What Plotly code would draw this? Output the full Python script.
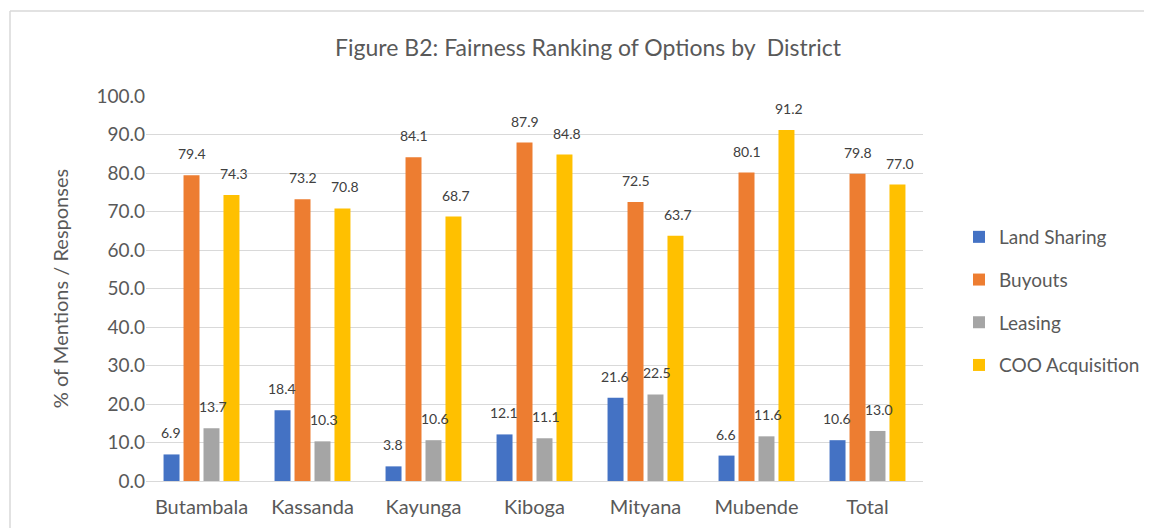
import plotly.graph_objects as go

districts = ["Butambala", "Kassanda", "Kayunga", "Kiboga", "Mityana", "Mubende", "Total"]
land_sharing = [6.9, 18.4, 3.8, 12.1, 21.6, 6.6, 10.6]
buyouts = [79.4, 73.2, 84.1, 87.9, 72.5, 80.1, 79.8]
leasing = [13.7, 10.3, 10.6, 11.1, 22.5, 11.6, 13.0]
coo_acquisition = [74.3, 70.8, 68.7, 84.8, 63.7, 91.2, 77.0]
series_names = ["Land Sharing", "Buyouts", "Leasing", "COO Acquisition"]
y_ticks = [0, 10, 20, 30, 40, 50, 60, 70, 80, 90, 100]

colors = ["#4472C4", "#ED7D31", "#A5A5A5", "#FFC000"]
series = [land_sharing, buyouts, leasing, coo_acquisition]
FONT = "Lato, Carlito, Calibri, sans-serif"
TXT = "#595959"

OFF = 8  # browser default body margin
W, H = 1152 - OFF, 528 - OFF
ML = 146 - OFF
MT = 96 - OFF
MR = 1152 - 923
MB = 528 - 481
PW = W - ML - MR
PH = H - MT - MB

fig = go.Figure()
for i, (name, vals) in enumerate(zip(series_names, series)):
    fig.add_trace(go.Bar(
        name=name, x=districts, y=vals,
        marker=dict(color=colors[i], line=dict(width=0)),
        legendgroup=name,
    ))

# data labels
offsets = [-31, -10, 11, 32]
for i, vals in enumerate(series):
    for d, v in zip(districts, vals):
        fig.add_annotation(
            x=d, y=v, text=f"{v:.1f}", showarrow=False,
            xshift=offsets[i], yshift=11, yanchor="bottom",
            font=dict(family=FONT, size=14, color="#404040"),
        )

# chart border (frame)
bx = (10 - OFF - ML) / PW
by = 1 + (MT - (11 - OFF)) / PH
fig.add_shape(type="line", xref="paper", yref="paper", x0=bx, x1=bx, y0=-1, y1=by,
              line=dict(color="#d9d9d9", width=1.5))
fig.add_shape(type="line", xref="paper", yref="paper", x0=bx, x1=3, y0=by, y1=by,
              line=dict(color="#d9d9d9", width=1.5))

fig.update_layout(
    width=W, height=H,
    margin=dict(l=ML, r=MR, t=MT, b=MB, autoexpand=False),
    paper_bgcolor="white", plot_bgcolor="white",
    font=dict(family=FONT, color=TXT),
    title=dict(text="Figure B2: Fairness Ranking of Options by\u00a0 District",
               x=(588 - OFF) / W, xanchor="center", y=1 - (48 - OFF) / H, yanchor="middle",
               font=dict(size=23, color=TXT, family=FONT)),
    barmode="group", bargap=0.28, bargroupgap=0.2,
    showlegend=True,
    legend=dict(x=(959 - OFF - ML) / PW, xanchor="left", y=(481 - 301) / PH, yanchor="middle",
                font=dict(size=19, color=TXT, family=FONT),
                tracegroupgap=15, bgcolor="rgba(0,0,0,0)", itemwidth=30),
    yaxis=dict(range=[0, 100], tickvals=y_ticks, tickformat=".1f",
               showgrid=True, gridcolor="#d9d9d9", gridwidth=1.3,
               zeroline=True, zerolinecolor="#d9d9d9", zerolinewidth=1.3,
               showline=False, ticks="", ticklen=0, automargin=False,
               tickfont=dict(size=19, color=TXT, family=FONT),
               title=dict(text="% of Mentions / Responses", standoff=22,
                          font=dict(size=20, color=TXT, family=FONT))),
    xaxis=dict(showline=False, ticks="", showgrid=False, automargin=False,
               ticklabelstandoff=12,
               tickfont=dict(size=20, color=TXT, family=FONT)),
)

fig.write_html("out.html")
